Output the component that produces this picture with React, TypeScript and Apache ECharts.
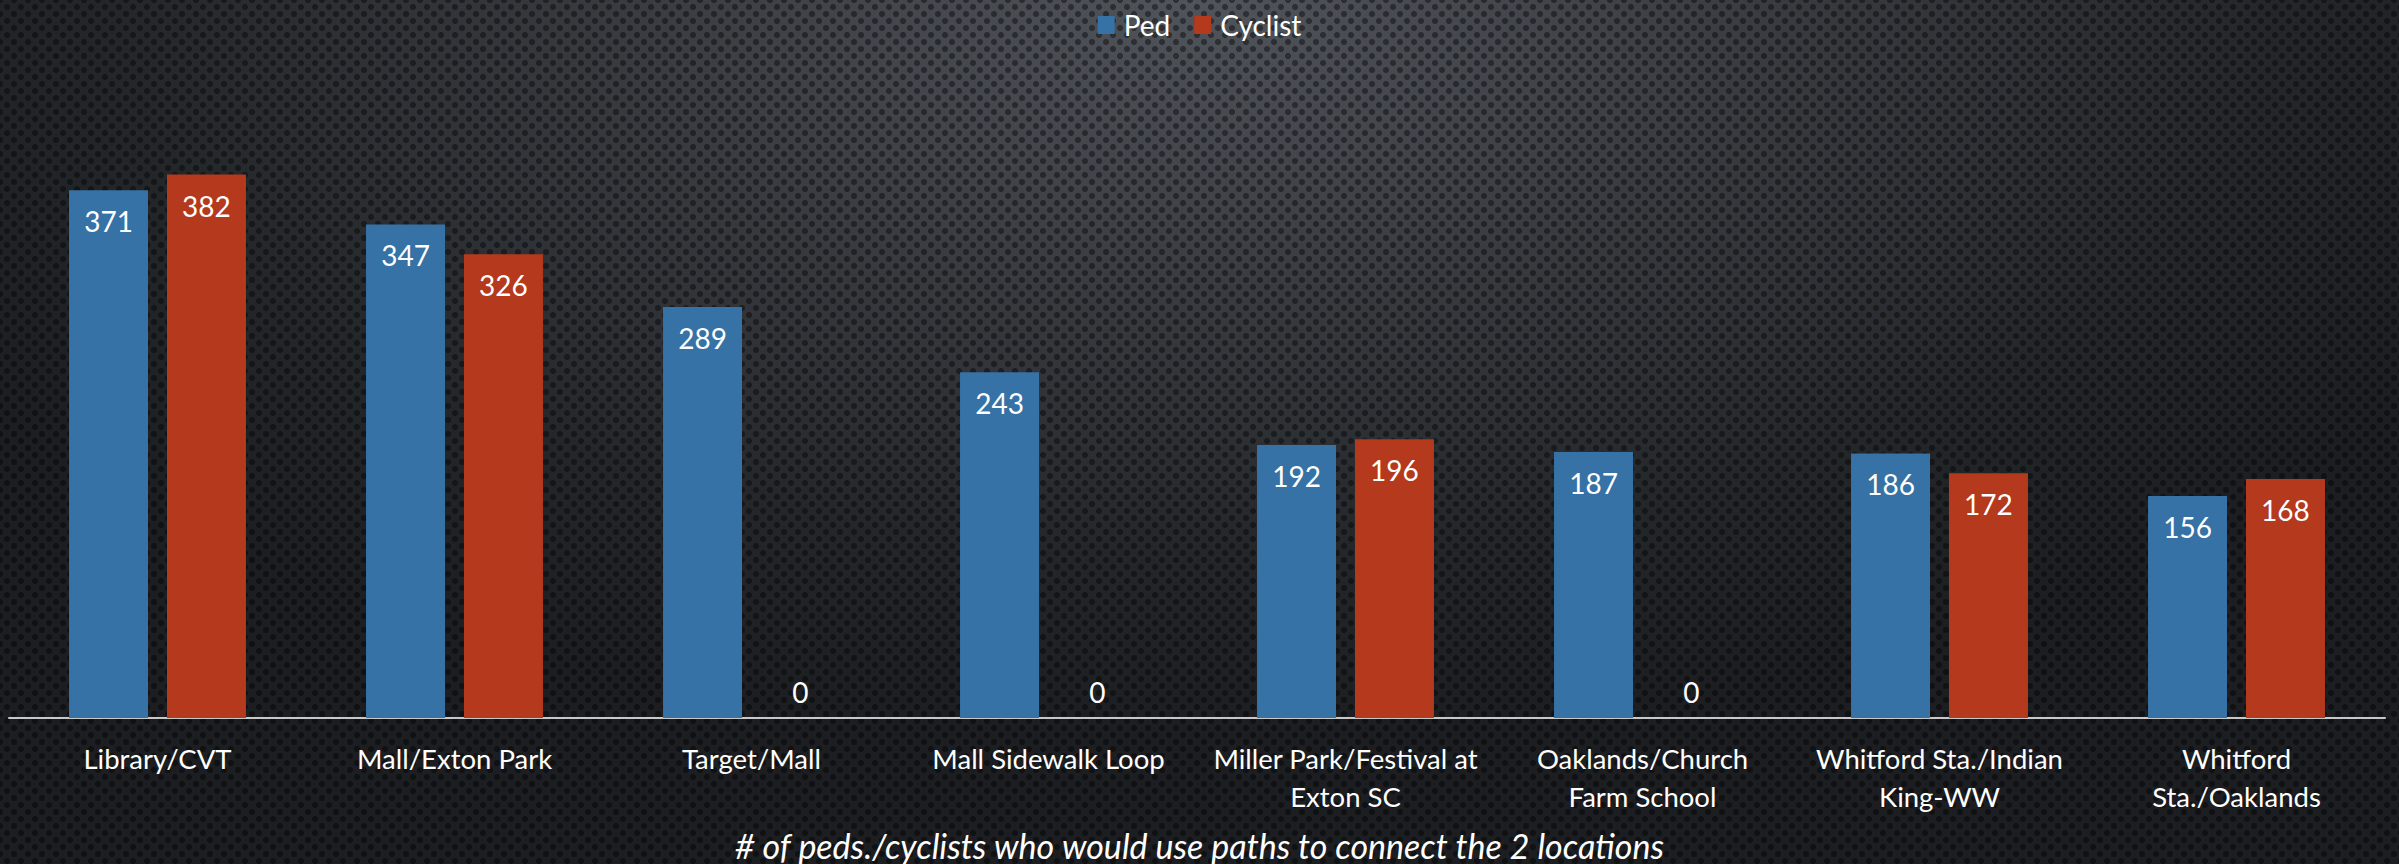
import React, { useEffect, useRef } from "react";
import * as echarts from "echarts";

const categories = [
  "Library/CVT",
  "Mall/Exton Park",
  "Target/Mall",
  "Mall Sidewalk Loop",
  "Miller Park/Festival at\nExton SC",
  "Oaklands/Church\nFarm School",
  "Whitford Sta./Indian\nKing-WW",
  "Whitford\nSta./Oaklands",
];
const pedValues = [371, 347, 289, 243, 192, 187, 186, 156];
const cyclistValues = [382, 326, 0, 0, 196, 0, 172, 168];
const seriesNames = ["Ped", "Cyclist"];
const axisTitle = "# of peds./cyclists who would use paths to connect the 2 locations";

const FONT = "Lato, 'Open Sans', sans-serif";

function toData(values: number[]) {
  return values.map((v) =>
    v === 0 ? { value: v, label: { position: "top", distance: 12 } } : v
  );
}

export default function App() {
  const ref = useRef<HTMLDivElement>(null);
  useEffect(() => {
    if (!ref.current) return;
    const chart = echarts.init(ref.current, null, { renderer: "svg" });
    const labelCfg = {
      show: true,
      position: "insideTop",
      distance: 17,
      color: "#ffffff",
      fontSize: 28,
      fontFamily: FONT,
    };
    chart.setOption({
      animation: false,
      backgroundColor: "transparent",
      legend: {
        top: 6,
        left: "center",
        icon: "rect",
        itemWidth: 17,
        itemHeight: 18,
        itemGap: 24,
        textStyle: { color: "#ffffff", fontSize: 28, fontFamily: FONT, padding: [0, 0, 0, 4] },
        data: seriesNames,
      },
      title: {
        text: axisTitle,
        left: "center",
        bottom: -3,
        textStyle: {
          color: "#ffffff",
          fontSize: 34,
          fontStyle: "italic",
          fontWeight: "normal",
          fontFamily: FONT,
        },
      },
      grid: { left: 9, right: 14, top: 149, bottom: 146, containLabel: false },
      xAxis: {
        type: "category",
        data: categories,
        axisLine: { show: true, lineStyle: { color: "#c8c8c8", width: 2 } },
        axisTick: { show: false },
        axisLabel: {
          color: "#ffffff",
          fontSize: 27.5,
          fontFamily: FONT,
          margin: 21,
          lineHeight: 38,
          interval: 0,
        },
      },
      yAxis: {
        type: "value",
        min: 0,
        max: 400,
        show: false,
        splitLine: { show: false },
      },
      series: [
        {
          name: seriesNames[0],
          type: "bar",
          data: toData(pedValues),
          barWidth: 79,
          barGap: "24%",
          itemStyle: { color: "#3672a6" },
          label: labelCfg,
        },
        {
          name: seriesNames[1],
          type: "bar",
          data: toData(cyclistValues),
          barWidth: 79,
          barGap: "24%",
          itemStyle: { color: "#b4391d" },
          label: labelCfg,
        },
      ],
    });
    return () => chart.dispose();
  }, []);

  const dot = "radial-gradient(circle at 50% 50%, rgba(0,0,0,0.42) 2.6px, rgba(0,0,0,0) 3.4px)";
  return (
    <div
      style={{
        position: "fixed",
        left: 0,
        top: 0,
        width: 2399,
        height: 864,
        backgroundColor: "#1d1f22",
        backgroundImage: `${dot}, ${dot}, radial-gradient(ellipse 60% 85% at 50% 0%, #50545b 0%, #383b40 40%, #24272a 75%, #1c1e21 100%)`,
        backgroundSize: "14px 14px, 14px 14px, 100% 100%",
        backgroundPosition: "0px 0px, 7px 7px, 0 0",
      }}
    >
      <div ref={ref} style={{ width: 2399, height: 864 }} />
    </div>
  );
}
